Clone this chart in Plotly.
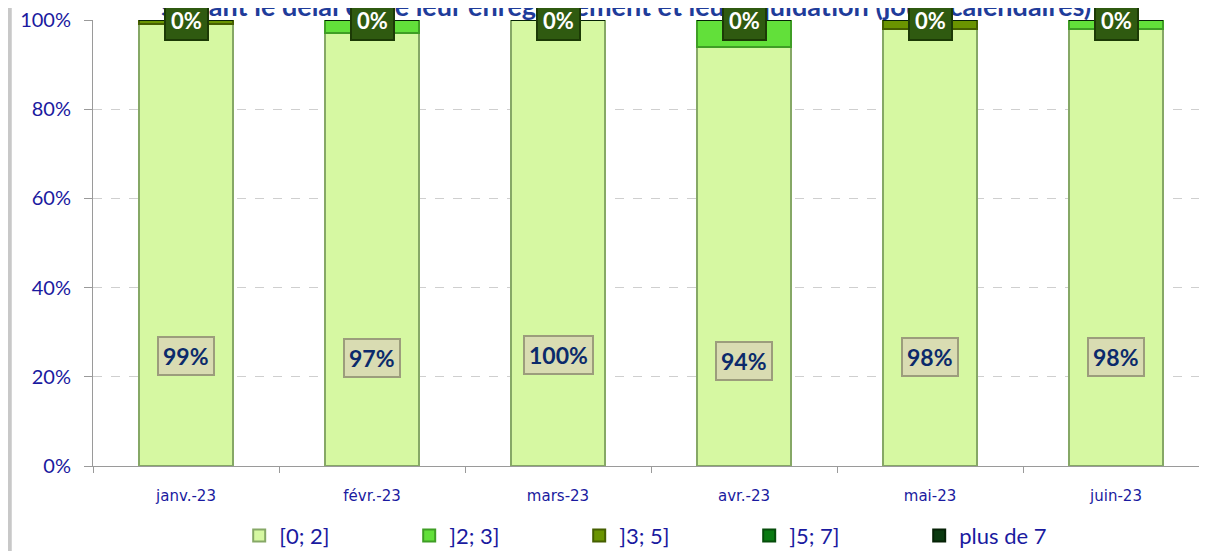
import plotly.graph_objects as go

# Data
months = ['janv.-23', 'févr.-23', 'mars-23', 'avr.-23', 'mai-23', 'juin-23']
share_0_2 = [99, 97, 100, 94, 98, 98]
share_2_3 = [0, 3, 0, 6, 0, 2]
share_3_5 = [1, 0, 0, 0, 2, 0]
share_5_7 = [0, 0, 0, 0, 0, 0]
share_7_plus = [0, 0, 0, 0, 0, 0]

series_names = ['[0; 2]', ']2; 3]', ']3; 5]', ']5; 7]', 'plus de 7']

COLORS = {
    'fill': ['#d6f8a2', '#62e03a', '#6a9400', '#0a7a12', '#0b3a10'],
    'edge': ['#86a866', '#3f9e25', '#455f00', '#064d0b', '#062206'],
    'navy': '#1a1aa0',
    'label': '#0b2a6b',
}

FONT = 'Lato'

fig = go.Figure()
all_series = [share_0_2, share_2_3, share_3_5, share_5_7, share_7_plus]
for name, vals, fill, edge in zip(series_names, all_series, COLORS['fill'], COLORS['edge']):
    fig.add_trace(go.Bar(
        x=months,
        y=vals,
        name=name,
        marker=dict(color=fill, line=dict(color=edge, width=2)),
        hoverinfo='x+y+name',
    ))

# Title, mostly cut off at the top edge as in the source
fig.add_annotation(
    x=0.478, y=1, xref='paper', yref='paper', xanchor='center', yanchor='bottom',
    yshift=-4, showarrow=False,
    text='<b>suivant le délai entre leur enregistrement et leur liquidation (jours calendaires)</b>',
    font=dict(family=FONT, size=27, color='#1f3c9a'),
)

# Labels of the [0; 2] series: beige bevel boxes in the lower part of the bar
for m, v in zip(months, share_0_2):
    fig.add_annotation(
        x=m, y=v * 0.25, xref='x', yref='y',
        text=f'<b>{v}%</b>', showarrow=False,
        font=dict(family=FONT, size=23, color=COLORS['label']),
        bgcolor='#d9dcb2', bordercolor='#9c9d7c', borderwidth=2, borderpad=4,
    )

# Labels of the "plus de 7" series: dark green boxes at the top
cum_top = [sum(t) for t in zip(*all_series)]
for m, v, top in zip(months, share_7_plus, cum_top):
    fig.add_annotation(
        x=m, y=top, xref='x', yref='y',
        text=f'<b>{v}%</b>', showarrow=False,
        font=dict(family=FONT, size=22, color='white'),
        bgcolor='#2f5a10', bordercolor='#1c3a06', borderwidth=2, borderpad=5,
    )

# grey frame shadow at the left edge of the chart area
fig.add_shape(
    type='rect', xref='paper', yref='paper',
    x0=-0.0765, x1=-0.0728, y0=-0.25, y1=1.05,
    fillcolor='#c8c8c8', line=dict(width=0), layer='below',
)

# page body has an 8px margin, so the figure is offset accordingly
fig.update_layout(
    barmode='stack',
    bargap=0.49,
    width=1207, height=551,
    margin=dict(l=85, r=6, t=12, b=93, autoexpand=False),
    paper_bgcolor='white',
    plot_bgcolor='white',
    font=dict(family=FONT, color=COLORS['navy']),
    showlegend=True,
    legend=dict(
        orientation='h',
        x=0.131, xanchor='left',
        y=-0.109, yanchor='top',
        entrywidth=125, entrywidthmode='pixels',
        itemwidth=30,
        font=dict(family=FONT, size=22, color=COLORS['navy']),
        traceorder='normal',
    ),
)

fig.update_xaxes(
    showline=True, linecolor='#9a9a9a', linewidth=1,
    ticks='outside', tickson='boundaries', ticklen=6, tickcolor='#9a9a9a',
    tickfont=dict(family='DejaVu Sans', size=15, color=COLORS['navy']),
    ticklabelstandoff=16,
    showgrid=False,
)
fig.update_yaxes(
    range=[0, 100], dtick=20, ticksuffix='%',
    showline=True, linecolor='#9a9a9a', linewidth=1,
    ticks='outside', ticklen=8, tickcolor='#9a9a9a',
    showgrid=True, gridcolor='#cfcfcf', griddash='dash',
    tickfont=dict(family=FONT, size=20, color=COLORS['navy']),
    ticklabelstandoff=9, ticklabeloverflow='allow',
    zeroline=False,
)

fig.write_html('out.html')
